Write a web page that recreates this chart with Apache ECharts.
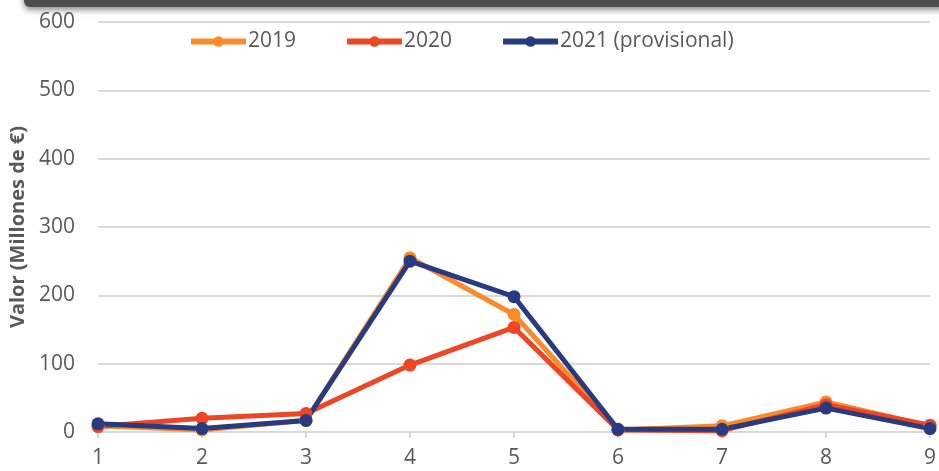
<!DOCTYPE html>
<html>
<head>
<meta charset="utf-8">
<script src="https://cdn.jsdelivr.net/npm/echarts@6/dist/echarts.min.js"></script>
<style>
  html, body { margin: 0; padding: 0; background: #fff; }
  #chart { width: 939px; height: 471px; }
</style>
</head>
<body>
<div id="chart"></div>
<script>
const categories = ['1', '2', '3', '4', '5', '6', '7', '8', '9'];
const values2019 = [9, 3, 17, 255, 172, 3, 9, 44, 9];
const values2020 = [8, 20, 27, 98, 153, 3, 2, 40, 10];
const values2021 = [12, 5, 17, 250, 198, 4, 4, 35, 5];
const seriesNames = ['2019', '2020', '2021 (provisional)'];
const seriesColors = ['#F98B2A', '#EE4525', '#283A80'];

const textColor = '#595959';
const font = 'Open Sans';

function lineSeries(name, data, color) {
  return {
    name: name,
    type: 'line',
    data: data,
    symbol: 'circle',
    symbolSize: 13,
    color: color,
    lineStyle: { width: 5, color: color },
    itemStyle: { color: color },
    emphasis: { disabled: true }
  };
}

const chart = echarts.init(document.getElementById('chart'));
chart.setOption({
  animation: false,
  textStyle: { fontFamily: font },
  graphic: [{
    type: 'rect',
    shape: { x: 24, y: -20, width: 940, height: 27, r: 6 },
    style: {
      fill: '#4d4d4d',
      shadowBlur: 6,
      shadowOffsetY: 3,
      shadowColor: 'rgba(0,0,0,0.45)'
    },
    z: 10
  }],
  legend: {
    left: 183,
    top: 26,
    itemWidth: 55,
    itemHeight: 13,
    itemGap: 48,
    lineStyle: { width: 6 },
    textStyle: { color: textColor, fontSize: 21, fontFamily: font, padding: [0, 0, 0, -3] },
    data: seriesNames
  },
  grid: { left: 98, right: 8, top: 22, bottom: 39, containLabel: false },
  xAxis: {
    type: 'category',
    data: categories,
    boundaryGap: false,
    axisLine: { lineStyle: { color: '#D9D9D9', width: 2 } },
    axisTick: { show: true, length: 6, lineStyle: { color: '#D9D9D9', width: 2 } },
    axisLabel: { color: textColor, fontSize: 21, margin: 16, fontFamily: font }
  },
  yAxis: {
    type: 'value',
    min: 0,
    max: 600,
    interval: 100,
    name: 'Valor (Millones de €)',
    nameLocation: 'middle',
    nameGap: 62,
    nameTextStyle: { color: textColor, fontSize: 20, fontWeight: 'bold', fontFamily: font },
    axisLine: { show: false },
    axisTick: { show: false },
    axisLabel: { color: textColor, fontSize: 21, margin: 23, fontFamily: font },
    splitLine: { lineStyle: { color: '#D9D9D9', width: 2 } }
  },
  series: [
    lineSeries(seriesNames[0], values2019, seriesColors[0]),
    lineSeries(seriesNames[1], values2020, seriesColors[1]),
    lineSeries(seriesNames[2], values2021, seriesColors[2])
  ]
});
</script>
</body>
</html>
